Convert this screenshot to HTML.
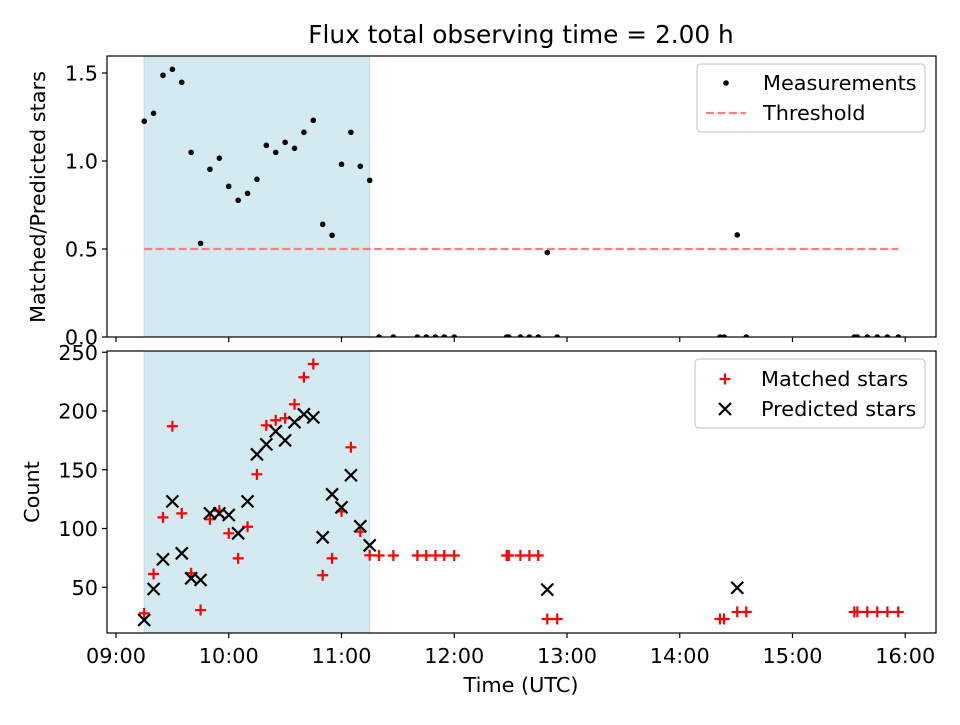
<!DOCTYPE html>
<html><head><meta charset="utf-8"><style>
body{margin:0;background:#fff}
svg{font-family:"DejaVu Sans","Liberation Sans",sans-serif}
</style></head><body>
<svg id="chart" width="960" height="720" viewBox="0 0 960 720" xmlns="http://www.w3.org/2000/svg">
<defs>
<clipPath id="cTop"><rect x="107" y="56" width="829" height="281"/></clipPath>
<clipPath id="cBot"><rect x="107" y="351" width="829" height="282"/></clipPath>
</defs>
<rect width="960" height="720" fill="#fff"/>
<text x="521" y="43" text-anchor="middle" font-size="24.8">Flux total observing time = 2.00 h</text>
<g id="topPanel"></g>
<g id="botPanel"></g>
</svg>
<script>
// times in minutes after midnight
const times = [555,560,565,570,575,580,585,590,595,600,605,610,615,620,625,630,635,640,645,650,655,660,665,670,675,
 680,687.6,700.4,705.1,710,714.7,720,747.9,749,755.2,760,764.7,769.5,774.8,861.4,863.6,870.6,875.4,932.9,934.5,939.8,945.1,950.5,956.3];
const ratio = [1.226,1.271,1.487,1.521,1.447,1.049,0.532,0.953,1.016,0.856,0.777,0.816,0.896,1.089,1.049,1.106,1.072,1.163,1.231,0.640,0.578,0.981,1.163,0.970,0.890,
 0,0,0,0,0,0,0,0,0,0,0,0,0.48,0,0,0,0.58,0,0,0,0,0,0,0];
const matched = [27.8,61.3,109.5,187,112.9,61.9,30.6,107.8,115.2,95.9,74.6,101.5,146.1,187.8,192.1,193.8,205.7,228.7,240,60.2,74.6,114.6,169.1,97.3,77.2,
 77,77,77,77,77,77,77,77,77,77,77,77,23,23,23,23,29,29,29,29,29,29,29,29];
const predicted = [22.1,48.5,73.8,123.1,78.9,57.6,56.2,112.9,112.9,111.5,95.9,123.1,163.1,171.6,182.7,175,190.4,197.2,194.6,92.5,129.1,118,145.3,101.9,85.7,
 null,null,null,null,null,null,null,null,null,null,null,null,48,null,null,null,49.6,null,null,null,null,null,null,null];
const threshold = 0.5;
const spanStart = 555, spanEnd = 675;
const xTickLabels = ["09:00","10:00","11:00","12:00","13:00","14:00","15:00","16:00"];
const xTickValues = [540,600,660,720,780,840,900,960];
const topTicks = [0,0.5,1.0,1.5];
const topTickLabels = ["0.0","0.5","1.0","1.5"];
const botTicks = [50,100,150,200,250];

const NS="http://www.w3.org/2000/svg";
const FS=20.8;
const X = t => 116 + (t-540)*1.87917;
const YT = v => 337 - v*176;
const YB = c => 646 - c*1.175;
function mk(parent, tag, attrs){const e=document.createElementNS(NS,tag);for(const k in attrs)e.setAttribute(k,attrs[k]);parent.appendChild(e);return e;}

const topG=document.getElementById('topPanel'), botG=document.getElementById('botPanel');

function panel(g, y0, y1, clip){
  const s=mk(g,'rect',{x:X(spanStart),y:y0,width:X(spanEnd)-X(spanStart),height:y1-y0,fill:'#d4eaf1',stroke:'#b9dde9','stroke-width':1});
  
  
  return mk(g,'g',{'clip-path':'url(#'+clip+')'});
}
function frame(g,y0,y1){
  const f=mk(g,'rect',{x:107,y:y0,width:829,height:y1-y0,fill:'none',stroke:'#000','stroke-width':1.2});
  
  
}

// TOP PANEL
const ti=panel(topG,56,337,'cTop');
const th=mk(ti,'line',{x1:X(times[0]),x2:X(times[times.length-1]),y1:YT(threshold),y2:YT(threshold),stroke:'#ff7f7f','stroke-width':2.2,'stroke-dasharray':'8,3.5'});


times.forEach((t,i)=>{
  const c=mk(ti,'circle',{cx:X(t),cy:YT(ratio[i]),r:2.8,fill:'#000'});
  
  
});
frame(topG,56,337);
topTicks.forEach((v,i)=>{
  mk(topG,'line',{x1:102,x2:107,y1:YT(v),y2:YT(v),stroke:'#000','stroke-width':1.2});
  const l=mk(topG,'text',{x:98,y:YT(v)+7.5,'text-anchor':'end','font-size':FS});
  l.textContent=topTickLabels[i];
  
  
});
xTickValues.forEach(t=>mk(topG,'line',{x1:X(t),x2:X(t),y1:337,y2:342,stroke:'#000','stroke-width':1.2}));
const yl=mk(topG,'text',{x:45,y:197,'text-anchor':'middle','font-size':FS,transform:'rotate(-90 45 197)'});
yl.textContent='Matched/Predicted stars';



// BOTTOM PANEL
const bi=panel(botG,351,633,'cBot');
times.forEach((t,i)=>{
  const x=X(t), y=YB(matched[i]);
  const p=mk(bi,'path',{d:`M${x-5.5} ${y}H${x+5.5}M${x} ${y-5.5}V${y+5.5}`,stroke:'#f00','stroke-width':2.2,fill:'none'});
  
  
});
times.forEach((t,i)=>{
  if(predicted[i]==null)return;
  const x=X(t), y=YB(predicted[i]);
  const p=mk(bi,'path',{d:`M${x-6} ${y-6}L${x+6} ${y+6}M${x-6} ${y+6}L${x+6} ${y-6}`,stroke:'#000','stroke-width':2.2,fill:'none'});
  
  
});
frame(botG,351,633);
botTicks.forEach(v=>{
  mk(botG,'line',{x1:102,x2:107,y1:YB(v),y2:YB(v),stroke:'#000','stroke-width':1.2});
  const l=mk(botG,'text',{x:98,y:YB(v)+7.5,'text-anchor':'end','font-size':FS});
  l.textContent=v;
  
  
});
xTickValues.forEach((t,i)=>{
  mk(botG,'line',{x1:X(t),x2:X(t),y1:633,y2:638,stroke:'#000','stroke-width':1.2});
  const l=mk(botG,'text',{x:X(t),y:663,'text-anchor':'middle','font-size':FS});
  l.textContent=xTickLabels[i];
  
  
});
const yl2=mk(botG,'text',{x:39,y:492,'text-anchor':'middle','font-size':FS,transform:'rotate(-90 39 492)'});
yl2.textContent='Count';


const xl=mk(botG,'text',{x:521,y:692,'text-anchor':'middle','font-size':FS});
xl.textContent='Time (UTC)';



// LEGENDS
function legendBox(g,x,y,w,h){
  const r=mk(g,'rect',{x:x,y:y,width:w,height:h,rx:4,fill:'#fff','fill-opacity':0.85,stroke:'#ccc','stroke-width':1.2});
  
  
}
function ltext(g,x,y,s){const t=mk(g,'text',{x:x,y:y,'font-size':FS});t.textContent=s;}
legendBox(topG,697,64,228,68);
mk(topG,'circle',{cx:726,cy:83,r:2.8,fill:'#000'});
ltext(topG,763,90,'Measurements');
mk(topG,'line',{x1:706,x2:746,y1:113,y2:113,stroke:'#ff7f7f','stroke-width':2.2,'stroke-dasharray':'8,3.5'});
ltext(topG,763,120,'Threshold');
legendBox(botG,695,359,230,69);
mk(botG,'path',{d:'M719.5 379H730.5M725 373.5V384.5',stroke:'#f00','stroke-width':2.2});
ltext(botG,761,386,'Matched stars');
mk(botG,'path',{d:'M719 403L731 415M719 415L731 403',stroke:'#000','stroke-width':2.2});
ltext(botG,761,416,'Predicted stars');
</script>
</body></html>
